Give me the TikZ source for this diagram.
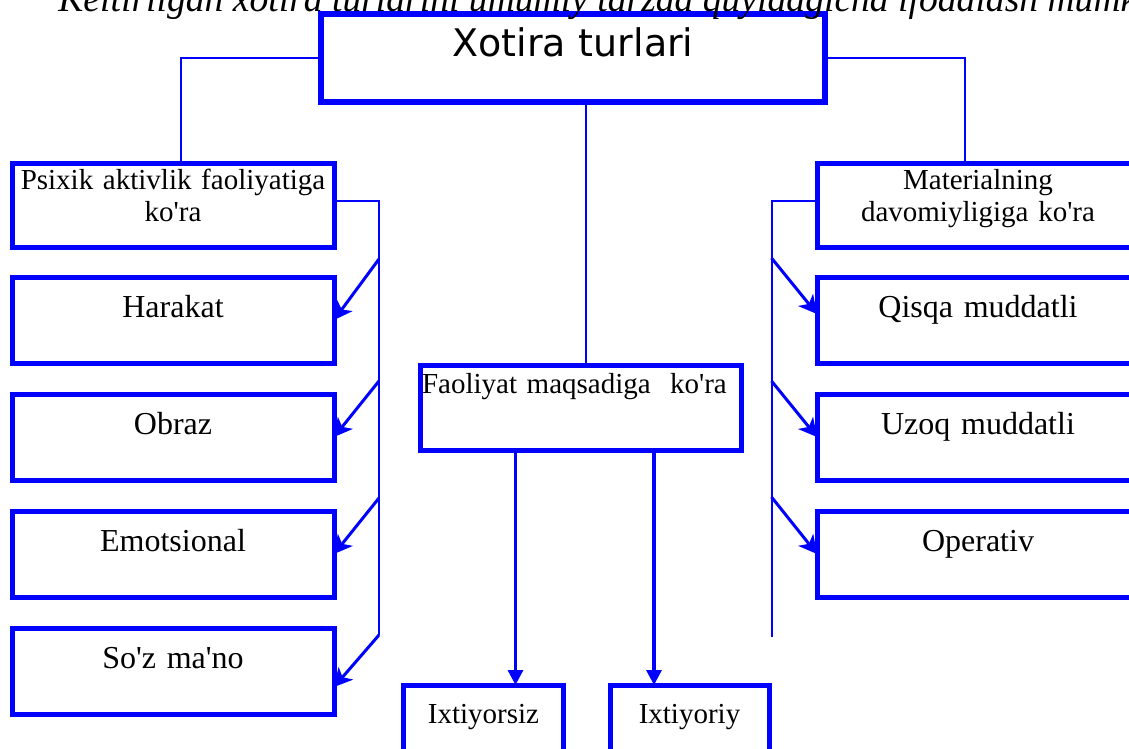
\documentclass[tikz,border=0pt]{standalone}
\usepackage{fontspec}
\setmainfont{Liberation Serif}
\newfontfamily\kopffont{DejaVu Sans}
\usetikzlibrary{arrows.meta}

\newcommand{\apo}{\textquotesingle}

\tikzset{
  kasten/.style={draw=blue, line width=2.5pt, inner sep=0pt, outer sep=0pt, anchor=north west,
    minimum width=161pt, text width=161pt, align=center,
    font=\fontsize{16}{19}\selectfont, text height=20pt, text depth=23pt},
  zweizeilig/.style={kasten, font=\fontsize{14.5}{16.5}\selectfont, text height=13pt, text depth=29pt},
  klein/.style={kasten, minimum width=80pt, text width=80pt,
    font=\fontsize{14.5}{16.5}\selectfont, text height=19pt, text depth=40pt},
  linie/.style={draw=blue, line width=1pt},
  pfeil/.style={draw=blue, line width=1.5pt, -{Stealth[length=9pt,width=9.5pt,inset=2.5pt]}},
  pfeilv/.style={draw=blue, line width=1.6pt, -{Triangle[length=7.5pt,width=7.5pt]}}
}

\begin{document}
\begin{tikzpicture}[x=0.5pt, y=-0.5pt]
    \useasboundingbox (0,0) rectangle (1129,749);
    \clip (0,0) rectangle (1129,749);

    % Hauptkasten
    \node[kasten, line width=3pt, minimum width=252pt, text width=252pt,
      font=\kopffont\fontsize{19}{22}\selectfont, text height=21.25pt, text depth=22.5pt]
      (xotira) at (321,14.5) {Xotira turlari};

    % linke Spalte
    \node[zweizeilig] (psixik) at (12,163) {Psixik aktivlik faoliyatiga\\ko\apo ra};
    \node[kasten] (harakat) at (12,277) {Harakat};
    \node[kasten] (obraz) at (12,394) {Obraz};
    \node[kasten] (emotsional) at (12,511) {Emotsional};
    \node[kasten] (soz) at (12,628) {So\apo z ma\apo no};

    % rechte Spalte
    \node[zweizeilig] (material) at (817,163) {Materialning\\davomiyligiga ko\apo ra};
    \node[kasten] (qisqa) at (817,277) {Qisqa muddatli};
    \node[kasten] (uzoq) at (817,394) {Uzoq muddatli};
    \node[kasten] (operativ) at (817,511) {Operativ};

    % Mitte
    \node[zweizeilig, minimum width=160.5pt, text width=159pt, inner xsep=0.75pt, align=left,
      text height=14pt, text depth=28.5pt]
      (faoliyat) at (420.5,365) {Faoliyat maqsadiga\ \ ko\apo ra};
    \node[klein] (ixtiyorsiz) at (403.5,685) {Ixtiyorsiz};
    \node[klein, minimum width=79.5pt, text width=79.5pt] (ixtiyoriy) at (610,685) {Ixtiyoriy};

    % Verbindungen oben
    \draw[linie] (xotira.west) -| ([xshift=4pt]psixik.north);
    \draw[linie] (xotira.east) -| ([xshift=-6.5pt]material.north);
    \draw[linie] ([xshift=2.25pt]faoliyat.north) -- ([xshift=2.25pt]faoliyat.north |- xotira.south);

    % Stammlinien
    \coordinate (lo) at (379,200.5);
    \coordinate (lu) at (379,635);
    \coordinate (ro) at (771.5,201);
    \coordinate (ru) at (771.5,637);
    \draw[linie] (psixik.east |- lo) -- (lo) -- (lu);
    \draw[linie] (material.west |- ro) -- (ro) -- (ru);

    % Pfeile links
    \coordinate (l1) at (379,259);
    \coordinate (l2) at (379,381);
    \coordinate (l3) at (379,498);
    \draw[pfeil] (l1) -- (harakat.east);
    \draw[pfeil] (l2) -- (obraz.east);
    \draw[pfeil] (l3) -- (emotsional.east);
    \draw[pfeil] (lu) -- ([yshift=-8pt]soz.east);

    % Pfeile rechts
    \coordinate (r1) at (771.5,258);
    \coordinate (r2) at (771.5,381);
    \coordinate (r3) at (771.5,497);
    \draw[pfeil] (r1) -- ([yshift=3pt]qisqa.west);
    \draw[pfeil] (r2) -- (uzoq.west);
    \draw[pfeil] (r3) -- (operativ.west);

    % Pfeile unten
    \draw[pfeilv] ([xshift=16pt]ixtiyorsiz.north |- faoliyat.south) -- ([xshift=16pt]ixtiyorsiz.north);
    \draw[pfeilv] ([xshift=-17.75pt]ixtiyoriy.north |- faoliyat.south) -- ([xshift=-17.75pt]ixtiyoriy.north);

    % Kopfzeile
    \node[anchor=base west, inner sep=0pt, font=\fontsize{18.8}{22}\selectfont\itshape]
      (titel) at (58,12) {Keltirilgan xotira turlarini umumiy tarzda quyidagicha ifodalash mumkin:};
\end{tikzpicture}
\end{document}
